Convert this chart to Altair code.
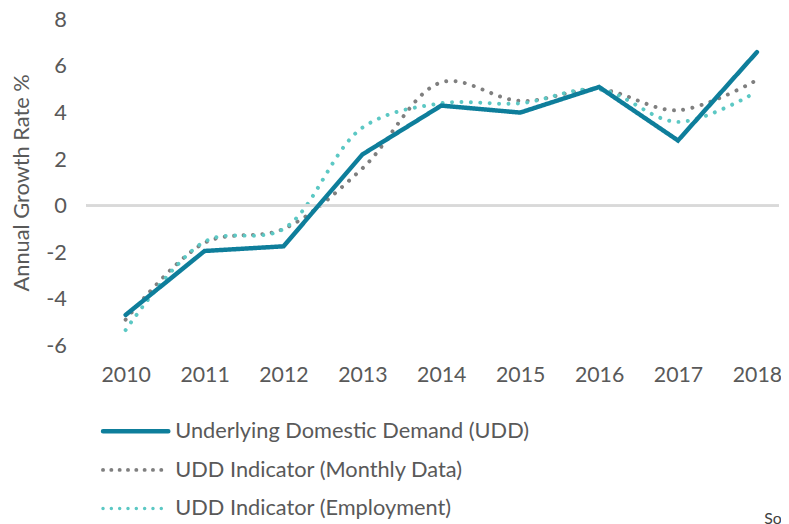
import altair as alt
import pandas as pd

years = [2010, 2011, 2012, 2013, 2014, 2015, 2016, 2017, 2018]
series_names = [
    "Underlying Domestic Demand (UDD)",
    "UDD Indicator (Monthly Data)",
    "UDD Indicator (Employment)",
]
udd = [-4.7, -1.95, -1.75, 2.2, 4.3, 4.0, 5.1, 2.8, 6.6]
udd_monthly = [-4.9, -1.6, -1.0, 1.6, 5.3, 4.5, 5.0, 4.1, 5.4]
udd_employment = [-5.35, -1.55, -1.0, 3.35, 4.4, 4.4, 5.0, 3.6, 4.9]
y_ticks = [-6, -4, -2, 0, 2, 4, 6, 8]
colors = ["#0E7E9B", "#7F7F7F", "#5CC8C4"]
dashes = [[1, 0], [0.01, 9.5], [0.01, 9.5]]
legend_dashes = [[1, 0], [0.01, 8.4], [0.01, 8.4]]

rows = []
for name, vals in zip(series_names, [udd, udd_monthly, udd_employment]):
    for yr, v in zip(years, vals):
        rows.append({"year": yr, "value": v, "series": name})
df = pd.DataFrame(rows)
legend_df = pd.DataFrame({"series": series_names})

FONT = "Lato"
TXT = "#595959"

x_enc = alt.X(
    "year:Q",
    scale=alt.Scale(domain=[2009.5, 2018.28], nice=False, zero=False),
    axis=alt.Axis(values=years, format="d", title=None, grid=False, domain=False,
                  ticks=False, labelFont=FONT, labelFontSize=21.5, labelColor=TXT,
                  labelPadding=20),
)
y_enc = alt.Y(
    "value:Q",
    scale=alt.Scale(domain=[-6, 8], nice=False, zero=False),
    axis=alt.Axis(values=y_ticks, title="Annual Growth Rate %", grid=False,
                  domain=False, ticks=False, labelFont=FONT, labelFontSize=22,
                  labelColor=TXT, labelPadding=20,
                  labelExpr="toString(datum.value)", titleFont=FONT,
                  titleFontSize=22, titleColor=TXT, titleFontWeight="normal",
                  titlePadding=12),
)
color_scale = alt.Scale(domain=series_names, range=colors)

base = alt.Chart(df).encode(
    x=x_enc, y=y_enc,
    color=alt.Color("series:N", scale=color_scale, legend=None),
    strokeDash=alt.StrokeDash("series:N", scale=alt.Scale(domain=series_names, range=dashes), legend=None),
)

zero = alt.Chart(df).mark_rule(color="#D9D9D9", strokeWidth=2).encode(y=alt.datum(0))

dotted = base.transform_filter(
    alt.datum.series != series_names[0]
).mark_line(strokeWidth=4, interpolate="catmull-rom", strokeCap="round")

solid = base.transform_filter(
    alt.datum.series == series_names[0]
).mark_line(strokeWidth=4.5, interpolate="linear", strokeCap="round")

plot = alt.layer(dotted, zero, solid)

leg_y = alt.Y("series:N", scale=alt.Scale(type="point", domain=series_names,
                                           range=[416, 494], padding=0), axis=None)
leg_lines = alt.Chart(legend_df).mark_rule(strokeCap="round").encode(
    y=leg_y,
    x=alt.value(17), x2=alt.value(83),
    color=alt.Color("series:N", scale=alt.Scale(domain=series_names, range=colors), legend=None),
    strokeDash=alt.StrokeDash("series:N", scale=alt.Scale(domain=series_names, range=legend_dashes), legend=None),
    strokeWidth=alt.StrokeWidth("series:N", scale=alt.Scale(domain=series_names, range=[4.5, 3.5, 3.5]), legend=None),
)
leg_text = alt.Chart(legend_df).mark_text(
    align="left", baseline="middle", font=FONT, fontSize=22, color=TXT
).encode(y=leg_y, x=alt.value(90), text="series:N")
legend = alt.layer(leg_lines, leg_text)

source = alt.Chart(pd.DataFrame({"t": ["So"]})).mark_text(
    align="left", baseline="top", font=FONT, fontSize=16, color="#404040"
).encode(text="t:N", x=alt.value(685), y=alt.value(497))

chart = alt.layer(plot, legend, source).resolve_scale(
    y="independent", color="independent", strokeDash="independent"
).properties(
    width=700, height=329,
    autosize=alt.AutoSizeParams(type="none"),
    padding={"left": 79, "top": 9, "right": 2, "bottom": 178},
).configure(font=FONT).configure_view(strokeWidth=0, stroke=None)

chart.save("out.html", embed_options={"renderer": "svg", "actions": False})
